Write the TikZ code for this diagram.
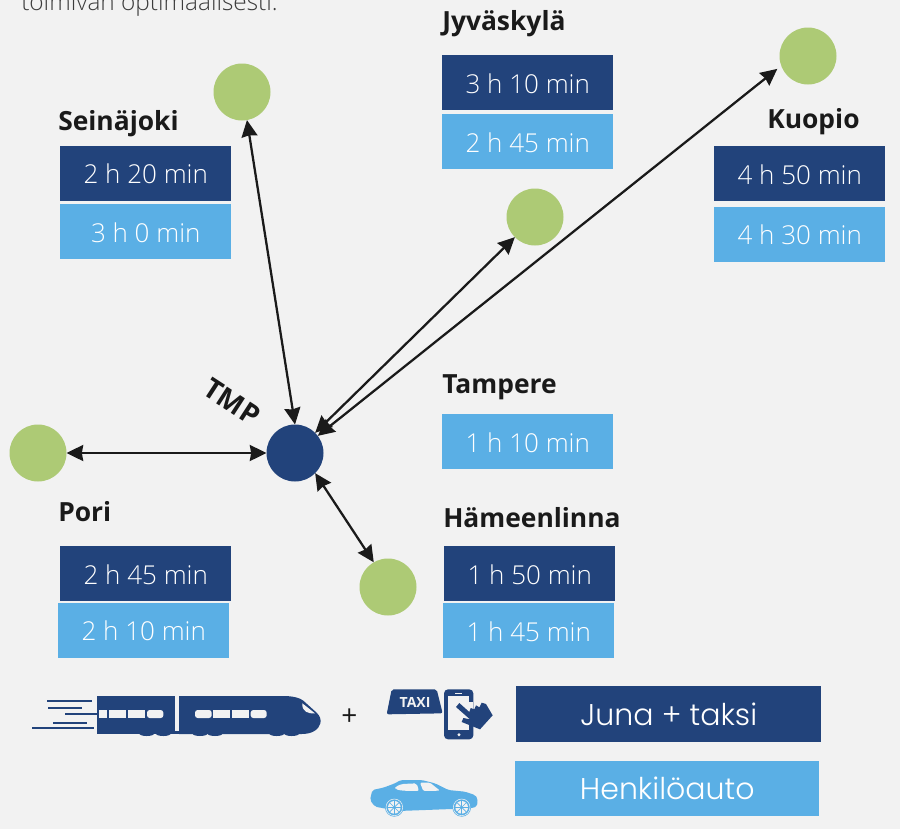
\documentclass[tikz,border=0pt]{standalone}
\usepackage{fontspec}
\setmainfont{Open Sans}
\newfontfamily\timefont{Open Sans Light}
\newfontfamily\legendfont{Poppins Light}
\usepackage{tikz}
\usetikzlibrary{arrows.meta}

\definecolor{pagegray}{HTML}{F2F2F2}
\definecolor{junablue}{HTML}{22437B}
\definecolor{autoblue}{HTML}{5AAFE5}
\definecolor{stopgreen}{HTML}{ADCA75}
\definecolor{inkblack}{HTML}{1A1A1A}

\def\px{0.75pt}

\tikzset{
  stopdot/.style={circle, fill=stopgreen, minimum size=57*\px, inner sep=0pt, outer sep=0pt},
  hubdot/.style={stopdot, fill=junablue},
  timebox/.style={anchor=north west, minimum width=171*\px, minimum height=55*\px, inner sep=0pt,
    text=white, text height=15.5pt, text depth=0pt, font=\timefont\fontsize{19.5}{22}\selectfont},
  junabox/.style={timebox, fill=junablue},
  autobox/.style={timebox, fill=autoblue},
  cityname/.style={anchor=base west, inner sep=0pt, text=inkblack, font=\fontsize{19.8}{24}\selectfont\bfseries},
  legendbox/.style={anchor=north west, minimum width=305*\px, minimum height=56*\px, inner sep=0pt,
    text=white, font=\legendfont\fontsize{22.5}{26}\selectfont},
  route/.style={{Stealth[length=12.5pt, width=12pt, inset=1pt]}-{Stealth[length=12.5pt, width=12pt, inset=1pt]},
    line width=1.7pt, draw=inkblack},
  iconjuna/.style={fill=junablue, draw=none},
  iconauto/.style={fill=autoblue, draw=none},
  iconcut/.style={fill=pagegray, draw=none},
  speedline/.style={draw=junablue, line width=1.3pt},
}

\begin{document}
\begin{tikzpicture}[x=0.75pt, y=-0.75pt]
  \clip (0,0) rectangle (900,829);
  \fill[pagegray] (0,0) rectangle (900,829);

  \node[anchor=base west, inner sep=0pt, text=inkblack!85, font=\timefont\fontsize{18.3}{22}\selectfont] (introline) at (21,10.5) {toimivan optimaalisesti.};

  % stops
  \node[hubdot] (tmp) at (295,453) {};
  \node[stopdot] (seinajoki) at (242,92) {};
  \node[stopdot] (jyvaskyla) at (535,217) {};
  \node[stopdot] (kuopio) at (808,56) {};
  \node[stopdot] (pori) at (38,453) {};
  \node[stopdot] (hameenlinna) at (388,587) {};

  \draw[route] (tmp.north) -- (seinajoki.280);
  \draw[route] (tmp.45) -- (jyvaskyla.225);
  \draw[route, shorten >=5*\px] (tmp.37) -- (kuopio.200);
  \draw[route] (tmp.west) -- (pori.east);
  \draw[route] (tmp.-45) -- (hameenlinna.120);

  \node[rotate=-33, inner sep=0pt, text=inkblack, font=\fontsize{21}{24}\selectfont\bfseries] (tmplabel) at (232,402) {TMP};

  % times
  \node[cityname] (seinajokilabel) at (58,130) {Seinäjoki};
  \node[junabox] (seinajokijuna) at (60,145.5) {2 h 20 min};
  \node[autobox] (seinajokiauto) at (60,204) {3 h 0 min};

  \node[cityname] (jyvaskylalabel) at (442,30) {Jyväskylä};
  \node[junabox] (jyvaskylajuna) at (442,55) {3 h 10 min};
  \node[autobox] (jyvaskylaauto) at (442,114) {2 h 45 min};

  \node[cityname] (kuopiolabel) at (767,128) {Kuopio};
  \node[junabox] (kuopiojuna) at (714,146) {4 h 50 min};
  \node[autobox] (kuopioauto) at (714,206.5) {4 h 30 min};

  \node[cityname] (tamperelabel) at (442,393) {Tampere};
  \node[autobox] (tampereauto) at (442,414) {1 h 10 min};

  \node[cityname] (porilabel) at (58,521) {Pori};
  \node[junabox] (porijuna) at (60,546) {2 h 45 min};
  \node[autobox] (poriauto) at (58,602.5) {2 h 10 min};

  \node[cityname] (hameenlinnalabel) at (443,527) {Hämeenlinna};
  \node[junabox] (hameenlinnajuna) at (444,546) {1 h 50 min};
  \node[autobox] (hameenlinnaauto) at (443,603) {1 h 45 min};

  % legend
  \node[legendbox, fill=junablue] (legendjuna) at (516,686) {Juna + taksi};
  \node[legendbox, fill=autoblue, minimum width=304*\px, minimum height=55*\px] (legendauto) at (515,761) {Henkilöauto};
  \node[inner sep=0pt, text=inkblack, font=\fontsize{21}{24}\selectfont] (plus) at (349.5,717) {+};

  % train
  \begin{scope}[shift={(0,670)}, x=0.25pt, y=-0.25pt]
    \draw[speedline] (141,92) -- (276,92);
    \draw[speedline] (144,114) -- (246,114);
    \draw[speedline] (159,158) -- (261,158);
    \draw[speedline] (96,174) -- (282,174);
    \foreach \wx in {440,490,600,645,830,875}
      \fill[iconjuna] (\wx,191) ellipse [x radius=22, y radius=7];
    \fill[iconjuna] (291,78) -- (525,78) -- (525,192) -- (291,192) -- cycle;
    \fill[iconjuna] (525,182) rectangle (537,192);
    \fill[iconjuna] (537,78) -- (850,78) .. controls (880,78) and (900,84) .. (910,92)
      -- (950,128) .. controls (960,138) and (964,150) .. (961,160)
      .. controls (956,180) and (935,192) .. (905,192) -- (537,192) -- cycle;
    \fill[iconcut] (297,120) rectangle (321,144);
    \fill[iconcut] (327,120) rectangle (379,144);
    \fill[iconcut] (384,120) rectangle (436,144);
    \fill[iconcut, rounded corners=2pt] (441,120) rectangle (490,144);
    \fill[iconcut, rounded corners=2pt] (585,120) rectangle (635,144);
    \fill[iconcut] (640,120) rectangle (690,144);
    \fill[iconcut] (695,120) rectangle (747,144);
    \fill[iconcut, rounded corners=2pt] (752,120) rectangle (800,144);
    \draw[speedline] (195,131) -- (297,131);
    \fill[iconcut] (907,100) -- (945,130) .. controls (925,132) and (905,125) .. cycle;
  \end{scope}

  % taxi and phone
  \begin{scope}[shift={(380,682)}, x=0.25pt, y=-0.25pt]
    \fill[iconjuna, rounded corners=1.5pt] (35,22) -- (170,22) -- (188,94) -- (20,97) -- cycle;
    \node[inner sep=0pt, text=pagegray, font=\fontsize{10.5}{12}\selectfont\bfseries] (taxitext) at (105,60) {TAXI};
    \fill[iconjuna, rounded corners=3pt] (192,22) rectangle (280,172);
    \fill[iconcut] (205,42) rectangle (268,145);
    \fill[iconcut] (225,33) rectangle (247,37);
    \fill[iconcut] (237,158) circle [radius=5];
    \fill[iconcut] (268,60) rectangle (280,130);
    \fill[iconjuna] (228,75) -- (238,63) -- (268,90) -- (272,78) -- (283,82) -- (288,70) -- (298,76)
      -- (305,62) -- (318,66) -- (338,100) -- (300,142) -- (245,120) -- (250,108) -- (270,112) -- cycle;
  \end{scope}

  % car
  \begin{scope}[shift={(365,775)}, x=0.25pt, y=-0.25pt]
    \fill[iconauto, rounded corners=1.5pt] (15,75) -- (22,45) -- (55,38) -- (90,25) -- (107,15)
      -- (170,15) -- (210,25) -- (250,45) -- (300,50) -- (330,60) -- (338,70) -- (336,95)
      -- (315,100) -- (100,108) -- (30,95) -- cycle;
    \fill[iconcut, rounded corners=1.5pt] (90,36) -- (110,27) -- (155,25) -- (162,48) -- (110,47) -- (90,42) -- cycle;
    \fill[iconcut, rounded corners=1pt] (165,23) -- (195,23) -- (225,47) -- (175,48) -- cycle;
    \foreach \wx in {88,290} {
      \fill[iconauto] (\wx,97) circle [radius=28];
      \draw[pagegray, line width=0.4pt] (\wx,97) circle [radius=25];
      \fill[pagegray] (\wx,97) circle [radius=19];
      \foreach \wa in {0,45,...,135}
        \draw[autoblue, line width=0.5pt] (\wx,97) ++(\wa:19) -- ++(\wa:-38);
    }
  \end{scope}
\end{tikzpicture}
\end{document}
